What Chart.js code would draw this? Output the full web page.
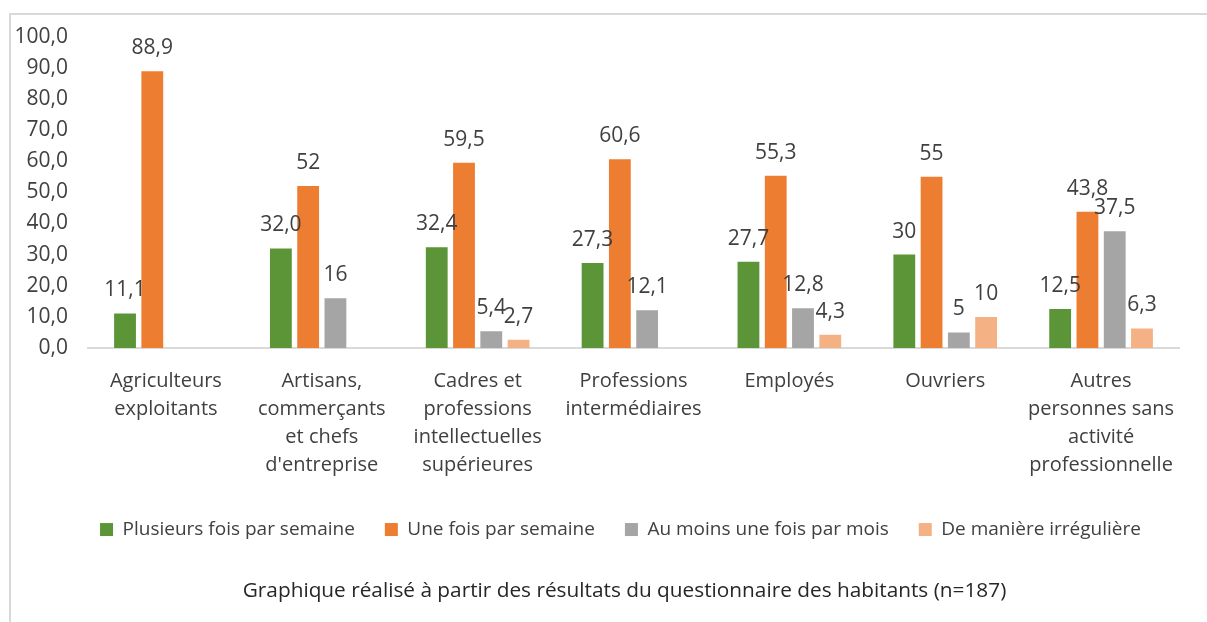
<!DOCTYPE html>
<html>
<head>
<meta charset="utf-8">
<script src="https://cdn.jsdelivr.net/npm/chart.js@4/dist/chart.umd.min.js"></script>
<style>
  html, body { margin: 0; padding: 0; background: #fff; overflow: hidden; }
  .frame {
    position: absolute; left: 9px; top: 13px; width: 1240px; height: 640px;
    border-left: 2px solid #d9d9d9; border-top: 2px solid #d9d9d9;
  }
  .frame canvas { position: absolute; left: -22px; top: -11px; }
</style>
</head>
<body>
<div class="frame"><canvas id="chartHabitants" width="1230" height="618"></canvas></div>
<script>
const categories = [
  ['Agriculteurs', 'exploitants'],
  ['Artisans,', 'commerçants', 'et chefs', "d'entreprise"],
  ['Cadres et', 'professions', 'intellectuelles', 'supérieures'],
  ['Professions', 'intermédiaires'],
  ['Employés'],
  ['Ouvriers'],
  ['Autres', 'personnes sans', 'activité', 'professionnelle']
];
const seriesNames = ['Plusieurs fois par semaine', 'Une fois par semaine', 'Au moins une fois par mois', 'De manière irrégulière'];
const plusieurs = [11.1, 32.0, 32.4, 27.3, 27.7, 30, 12.5];
const uneFois = [88.9, 52, 59.5, 60.6, 55.3, 55, 43.8];
const auMoins = [null, 16, 5.4, 12.1, 12.8, 5, 37.5];
const irreguliere = [null, null, 2.7, null, 4.3, 10, 6.3];
const plusieursLabels = ['11,1', '32,0', '32,4', '27,3', '27,7', '30', '12,5'];
const uneFoisLabels = ['88,9', '52', '59,5', '60,6', '55,3', '55', '43,8'];
const auMoinsLabels = ['', '16', '5,4', '12,1', '12,8', '5', '37,5'];
const irreguliereLabels = ['', '', '2,7', '', '4,3', '10', '6,3'];
const colors = ['#5b9537', '#ed7d31', '#a5a5a5', '#f4b183'];
const titleText = 'Graphique réalisé à partir des résultats du questionnaire des habitants (n=187)';

const FONT = '"Open Sans", "Noto Sans", sans-serif';
const TEXT = '#404040';

// étiquettes de valeurs au-dessus des barres
const valueLabels = {
  id: 'valueLabels',
  afterDatasetsDraw(chart) {
    const ctx = chart.ctx;
    ctx.save();
    ctx.font = '21px ' + FONT;
    ctx.fillStyle = TEXT;
    ctx.textAlign = 'center';
    ctx.textBaseline = 'alphabetic';
    chart.data.datasets.forEach((ds, i) => {
      const meta = chart.getDatasetMeta(i);
      meta.data.forEach((bar, j) => {
        if (ds.data[j] == null) return;
        ctx.fillText(ds.labelsText[j], bar.x, bar.y - 17);
      });
    });
    ctx.restore();
  }
};

// recentre légende et titre comme dans l'original
const blockShift = {
  id: 'blockShift',
  afterLayout(chart) {
    chart.legend.left += 35;
    chart.legend.right += 35;
    chart.titleBlock.left += 39;
    chart.titleBlock.right += 39;
  }
};

const labelSets = [plusieursLabels, uneFoisLabels, auMoinsLabels, irreguliereLabels];
const dataSets = [plusieurs, uneFois, auMoins, irreguliere];

new Chart(document.getElementById('chartHabitants'), {
  type: 'bar',
  data: {
    labels: categories,
    datasets: dataSets.map((d, i) => ({
      label: seriesNames[i],
      data: d,
      labelsText: labelSets[i],
      backgroundColor: colors[i],
      categoryPercentage: 0.7,
      barPercentage: 0.8
    }))
  },
  plugins: [valueLabels, blockShift],
  options: {
    responsive: false,
    animation: false,
    layout: { padding: { top: 2, right: 40, left: 3 } },
    plugins: {
      legend: {
        position: 'bottom',
        labels: {
          boxWidth: 13, boxHeight: 13, padding: 30,
          color: TEXT, font: { family: FONT, size: 19 }
        }
      },
      title: {
        display: true,
        position: 'bottom',
        text: titleText,
        color: '#262626',
        font: { family: FONT, size: 20.8, weight: 'normal' },
        padding: { top: 30, bottom: 18 }
      },
      tooltip: { enabled: false }
    },
    scales: {
      x: {
        grid: { display: false },
        border: { display: true, color: '#d9d9d9', width: 2 },
        ticks: { color: TEXT, font: { family: FONT, size: 20, lineHeight: 1.4 }, padding: 11, maxRotation: 0, autoSkip: false }
      },
      y: {
        min: 0, max: 100,
        afterFit: scale => { scale.width = 96; },
        grid: { display: false, drawTicks: false },
        border: { display: false },
        ticks: {
          stepSize: 10, color: TEXT, padding: 20,
          font: { family: FONT, size: 21 },
          callback: v => v.toFixed(1).replace('.', ',')
        }
      }
    }
  }
});
</script>
</body>
</html>
